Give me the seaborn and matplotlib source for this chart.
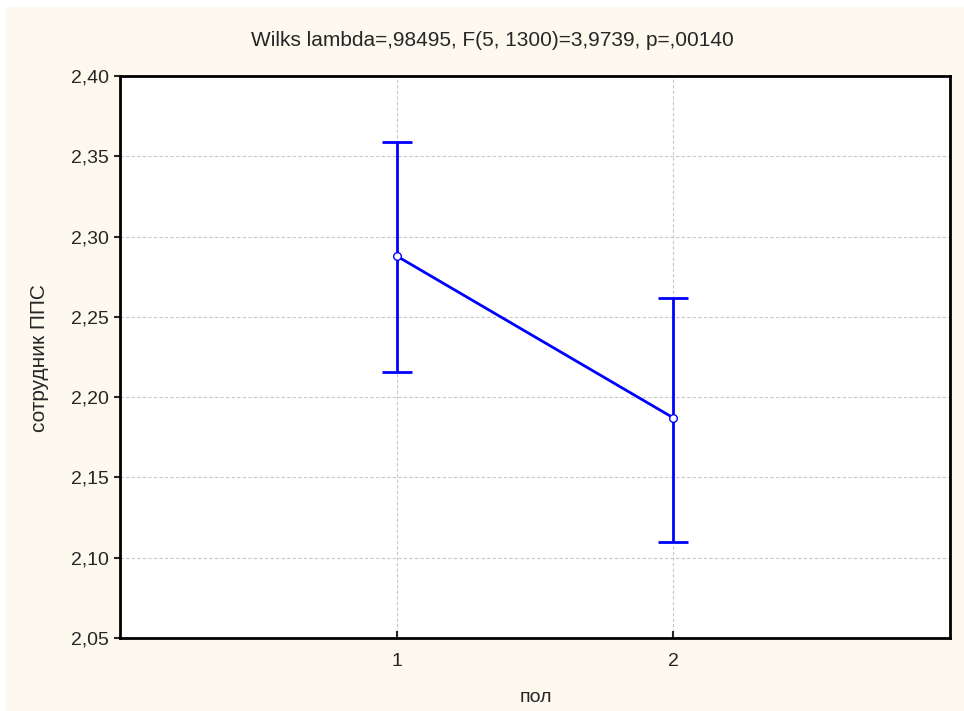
import matplotlib
matplotlib.use("Agg")
import matplotlib.pyplot as plt
import seaborn as sns
import pandas as pd
from matplotlib.patches import Rectangle
from matplotlib.ticker import FuncFormatter

# Data
groups = [1, 2]
means = [2.2879, 2.1871]
upper = [2.3589, 2.2618]
lower = [2.2157, 2.1098]
y_ticks = [2.05, 2.10, 2.15, 2.20, 2.25, 2.30, 2.35, 2.40]
title = "Wilks lambda=,98495, F(5, 1300)=3,9739, p=,00140"
xlabel = "пол"
ylabel = "сотрудник ППС"

sns.set_style("white")
plt.rcParams['font.family'] = ['Liberation Sans', 'DejaVu Sans']

W, H = 964, 711
fig = plt.figure(figsize=(W / 100, H / 100), dpi=100, facecolor='white')
fig.patches.append(Rectangle((5 / W, 0), 1 - 5 / W, 1 - 7 / H, transform=fig.transFigure,
                             facecolor='#FEF9EE', edgecolor='none', zorder=-10))
ax = fig.add_axes([120 / W, 1 - 638 / H, (950 - 120) / W, (638 - 76) / H])
ax.set_facecolor('white')

df = pd.DataFrame({"x": groups, "y": means})
blue = '#0000FF'
yerr = [[m - l for m, l in zip(means, lower)], [u - m for u, m in zip(upper, means)]]
ax.errorbar(groups, means, yerr=yerr, fmt='none', ecolor=blue, elinewidth=2,
            capsize=11, capthick=2, zorder=3)
sns.lineplot(data=df, x="x", y="y", ax=ax, color=blue, linewidth=2, marker='o',
             markersize=5.5, markerfacecolor='white', markeredgecolor=blue,
             markeredgewidth=1, zorder=4)

ax.set_xlim(0, 3)
ax.set_ylim(2.05, 2.40)
ax.set_xticks(groups)
ax.set_yticks(y_ticks)
ax.yaxis.set_major_formatter(FuncFormatter(lambda v, p: f"{v:.2f}".replace('.', ',')))
ax.xaxis.set_major_formatter(FuncFormatter(lambda v, p: f"{int(v)}"))
ax.grid(True, color='#C8C8C8', linestyle=(0, (3, 2)), linewidth=0.8)
ax.set_axisbelow(True)
for s in ax.spines.values():
    s.set_linewidth(2)
    s.set_color('black')
ax.tick_params(axis='y', direction='out', length=4, width=1.5, labelsize=14, pad=4, left=True)
ax.tick_params(axis='x', direction='in', length=5, width=1.5, labelsize=14, pad=11, bottom=True)
ax.set_xlabel("")
ax.set_ylabel("")

fig.text(492 / W, 1 - 41 / H, title, ha='center', va='center', fontsize=15)
fig.text(536 / W, 1 - 698 / H, xlabel, ha='center', va='center', fontsize=14)
fig.text(40 / W, 1 - 358 / H, ylabel, ha='center', va='center', fontsize=15, rotation=90)

fig.savefig("out.png", dpi=100, facecolor=fig.get_facecolor())
